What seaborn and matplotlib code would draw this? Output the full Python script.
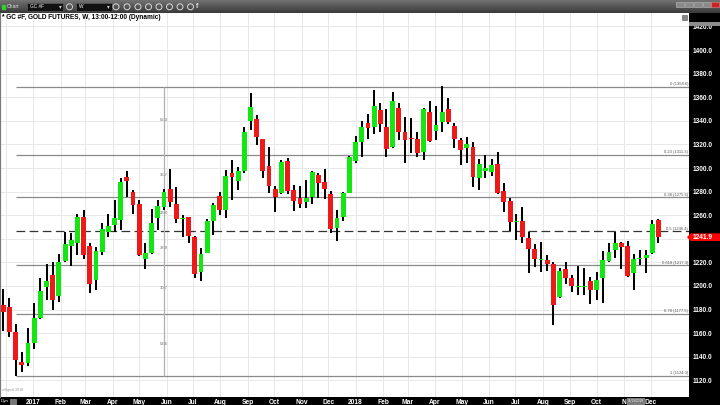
import numpy as np
import pandas as pd
import matplotlib
matplotlib.use("Agg")
import matplotlib.pyplot as plt
import matplotlib.dates as mdates
from matplotlib.patches import Rectangle, Polygon, Circle
from matplotlib.colors import LinearSegmentedColormap
import seaborn as sns

# ---------------- data (weekly OHLC, GC #F) ----------------
start_week = "2016-11-28"
opens = [1183.9, 1182.5, 1161.3, 1135.8, 1135.0, 1151.4, 1172.6, 1199.4, 1209.3, 1191.5,
         1221.1, 1234.2, 1236.1, 1258.7, 1233.9, 1205.0, 1229.0, 1245.5, 1251.7, 1255.9,
         1292.6, 1279.9, 1269.5, 1222.8, 1227.6, 1257.3, 1267.2, 1282.2, 1269.5, 1256.4,
         1258.2, 1241.8, 1212.1, 1228.2, 1255.3, 1276.2, 1264.4, 1296.0, 1289.2, 1297.7,
         1339.8, 1341.2, 1324.3, 1301.7, 1281.9, 1278.5, 1306.2, 1281.3, 1274.3, 1270.9,
         1275.7, 1294.0, 1287.8, 1277.7, 1248.8, 1258.2, 1279.1, 1305.9, 1322.3, 1337.8,
         1334.4, 1349.1, 1335.0, 1317.5, 1350.5, 1330.8, 1325.1, 1324.3, 1313.2, 1347.1,
         1331.3, 1338.7, 1349.7, 1335.8, 1323.7, 1316.6, 1318.0, 1291.2, 1297.7, 1296.9,
         1303.4, 1280.8, 1272.0, 1253.9, 1255.3, 1240.9, 1231.3, 1222.0, 1222.0, 1218.3,
         1190.4, 1214.1, 1206.5, 1199.4, 1199.1, 1204.2, 1196.6, 1207.0, 1221.4, 1230.5,
         1236.1, 1234.2, 1210.7, 1222.6, 1224.0, 1227.6, 1255.9]
highs = [1197.1, 1189.5, 1167.5, 1143.7, 1164.0, 1185.8, 1206.5, 1218.6, 1220.0, 1227.1,
         1246.0, 1244.6, 1261.0, 1264.4, 1236.7, 1233.3, 1253.1, 1261.0, 1272.9, 1291.2,
         1297.4, 1281.0, 1272.9, 1236.7, 1265.0, 1272.9, 1282.2, 1298.8, 1284.2, 1260.1,
         1258.7, 1242.5, 1232.5, 1256.5, 1270.0, 1279.9, 1298.3, 1306.8, 1301.1, 1335.0,
         1363.3, 1344.9, 1325.0, 1317.5, 1284.7, 1306.8, 1308.2, 1285.6, 1285.0, 1289.8,
         1297.4, 1295.5, 1299.1, 1280.5, 1264.4, 1279.9, 1310.1, 1327.1, 1340.1, 1345.5,
         1366.1, 1354.8, 1349.7, 1364.7, 1354.8, 1343.5, 1342.1, 1330.8, 1350.5, 1357.0,
         1352.5, 1369.5, 1359.0, 1337.8, 1325.1, 1326.0, 1322.3, 1307.3, 1311.0, 1307.6,
         1313.3, 1287.0, 1274.3, 1260.7, 1267.2, 1245.5, 1235.3, 1237.5, 1226.2, 1220.6,
         1215.0, 1220.0, 1209.3, 1217.2, 1215.0, 1207.3, 1211.5, 1229.6, 1236.7, 1246.0,
         1237.5, 1238.4, 1226.8, 1230.5, 1230.5, 1255.9, 1256.8]
lows = [1162.1, 1157.0, 1123.7, 1126.8, 1132.4, 1146.3, 1171.7, 1188.1, 1179.6, 1186.7,
        1220.6, 1217.2, 1226.2, 1222.8, 1194.3, 1196.6, 1226.2, 1241.2, 1245.5, 1247.4,
        1275.7, 1260.7, 1225.4, 1214.1, 1226.8, 1247.4, 1264.4, 1267.2, 1253.1, 1241.8,
        1236.7, 1206.5, 1204.2, 1228.2, 1243.2, 1260.1, 1257.3, 1272.8, 1281.3, 1295.5,
        1332.2, 1319.5, 1291.2, 1278.5, 1263.0, 1277.7, 1277.7, 1263.8, 1265.8, 1266.4,
        1269.5, 1274.3, 1273.4, 1244.6, 1238.1, 1255.3, 1278.5, 1304.5, 1309.0, 1324.5,
        1328.8, 1330.8, 1309.6, 1316.6, 1323.7, 1303.9, 1313.0, 1309.6, 1306.8, 1322.3,
        1323.7, 1330.8, 1337.0, 1316.6, 1302.5, 1304.5, 1284.2, 1281.3, 1291.2, 1293.5,
        1278.0, 1262.4, 1246.6, 1239.0, 1236.1, 1210.7, 1216.3, 1212.1, 1213.0, 1166.9,
        1189.5, 1201.7, 1195.2, 1192.3, 1192.3, 1184.4, 1188.1, 1185.8, 1220.6, 1223.4,
        1214.1, 1207.9, 1196.6, 1217.8, 1210.7, 1227.1, 1236.4]
closes = [1177.6, 1161.3, 1137.3, 1133.0, 1151.4, 1173.1, 1195.7, 1204.5, 1188.1, 1220.6,
          1235.6, 1239.0, 1258.2, 1226.2, 1201.4, 1229.9, 1248.0, 1251.1, 1257.3, 1288.4,
          1289.2, 1268.6, 1226.2, 1227.6, 1253.1, 1268.0, 1279.9, 1271.4, 1256.7, 1256.9,
          1242.6, 1209.9, 1226.8, 1255.3, 1268.6, 1264.4, 1293.5, 1292.1, 1297.4, 1330.8,
          1351.4, 1326.0, 1297.4, 1284.7, 1275.1, 1304.8, 1280.5, 1272.3, 1269.5, 1274.3,
          1296.3, 1287.5, 1282.2, 1248.3, 1257.3, 1279.1, 1309.6, 1322.3, 1335.0, 1333.6,
          1352.5, 1337.3, 1315.8, 1356.8, 1330.8, 1323.7, 1324.3, 1312.4, 1350.0, 1322.9,
          1336.4, 1347.7, 1338.7, 1324.3, 1315.2, 1320.3, 1292.1, 1303.4, 1299.7, 1302.5,
          1278.5, 1270.9, 1254.5, 1255.3, 1241.2, 1231.0, 1222.8, 1222.8, 1218.6, 1183.9,
          1213.0, 1206.5, 1200.3, 1200.3, 1200.3, 1196.6, 1205.0, 1222.0, 1228.5, 1236.1,
          1233.3, 1208.4, 1222.6, 1222.8, 1226.2, 1252.2, 1241.9]

title = "* GC #F, GOLD FUTURES, W, 13:00-12:00 (Dynamic)"
# "Nov" 2018 is mostly hidden behind the cursor date tag; only "N" shows
month_labels = ["", "2017", "Feb", "Mar", "Apr", "May", "Jun", "Jul", "Aug", "Sep", "Oct",
                "Nov", "Dec", "2018", "Feb", "Mar", "Apr", "May", "Jun", "Jul", "Aug",
                "Sep", "Oct", "N", "Dec"]
y_ticks = [1120, 1140, 1160, 1180, 1200, 1220, 1240, 1260, 1280, 1300, 1320, 1340,
           1360, 1380, 1400, 1420]
fib_high = 1368.6
fib_low = 1124.0
fib_ratios = [0, 0.236, 0.382, 0.5, 0.618, 0.786, 1]
fib_labels = ["0 (1368.6)", "0.23 (1311.3)", "0.38 (1275.6)", "0.5 (1246.4)",
              "0.618 (1217.3)", "0.78 (1177.5)", "1 (1124.0)"]
cycle_values = [1340.7, 1294.1, 1261.9, 1232.2, 1198.3, 1150.8]
cycle_labels = ["56.3", "36.7", "23.6", "38.9", "30.7", "53.6"]
last_price = 1241.9
date_tag = "11/13/2018"

# ---------------- style ----------------
sns.set_theme(style="white")
plt.rcParams["font.family"] = ["Liberation Sans", "DejaVu Sans"]

GREEN = "#14e614"
RED = "#ee1a1a"

W, H = 720, 405
fig = plt.figure(figsize=(7.2, 4.05), dpi=100, facecolor="black")
ax = fig.add_axes([0, 8 / H, 689 / W, 384 / H])
ax.set_facecolor("white")

dates = pd.date_range(start_week, periods=len(opens), freq="7D")
x = mdates.date2num(dates)
df = pd.DataFrame({"x": x, "open": opens, "high": highs, "low": lows, "close": closes})
df["up"] = df["close"] >= df["open"]
df["bottom"] = df[["open", "close"]].min(axis=1)
df["height"] = (df["close"] - df["open"]).abs().clip(lower=0.9)

# wicks and bodies
ax.vlines(df["x"], df["low"], df["high"], color="black", lw=1.45, zorder=3)
ax.bar(df["x"], df["height"], bottom=df["bottom"], width=5.5,
       color=np.where(df["up"], GREEN, RED), edgecolor="none", zorder=4)

# limits
ax.set_ylim(1105.9, 1431.4)
ax.set_xlim(x[0] - 3.7, x[0] + 776.6)

# grid / month ticks
months = pd.date_range("2016-12-01", "2018-12-01", freq="MS")
ax.set_xticks(mdates.date2num(months))
ax.set_xticklabels(month_labels)
ax.set_yticks(y_ticks)
# the 1240.0 label sits under the last-price tag
ax.set_yticklabels(["" if abs(v - last_price) < 5 else f"{v:.1f}" for v in y_ticks])
ax.yaxis.tick_right()
ax.grid(True, color="#e8e8e8", lw=0.7)
ax.set_axisbelow(True)
ax.tick_params(axis="x", length=0, pad=1.6, labelcolor="white", labelsize=4.8)
ax.tick_params(axis="y", length=0, pad=2.7, labelcolor="white", labelsize=4.7)
for lbl in ax.get_xticklabels() + ax.get_yticklabels():
    lbl.set_fontweight("bold")
for s in ["top", "right", "bottom"]:
    ax.spines[s].set_visible(False)
ax.spines["left"].set_color("#7a7a7a")
ax.spines["left"].set_linewidth(1.6)

# fibonacci levels
xr = ax.get_xlim()[1]
for r, lab in zip(fib_ratios, fib_labels):
    lvl = fib_high - r * (fib_high - fib_low)
    if r == 0.5:
        ax.hlines(lvl, x[2], xr, color="#333333", lw=0.9, linestyles=(0, (7, 3.5)), zorder=2)
    else:
        ax.hlines(lvl, x[2], xr, color="#8a8a8a", lw=0.9, zorder=2)
    ax.text(xr - 1, lvl + 0.6, lab, ha="right", va="bottom", fontsize=3.0,
            color="#555555", zorder=5)

# vertical cycle line
ax.vlines(x[26], fib_low, fib_high, color="#b0b0b0", lw=0.9, zorder=2)
for v, lab in zip(cycle_values, cycle_labels):
    ax.text(x[26], v, lab, ha="center", va="center", fontsize=3.0, color="#666666", zorder=2.5)

# ---------------- overlay (pixel coords) ----------------
ov = fig.add_axes([0, 0, 1, 1], facecolor="none", zorder=10)
grad = np.linspace(0, 1, 30).reshape(-1, 1)
ov.imshow(grad, cmap=LinearSegmentedColormap.from_list("tb", ["#727272", "#3a3a3a"]),
          extent=(0, W, 13, 0), aspect="auto", zorder=0)
ov.set_xlim(0, W)
ov.set_ylim(H, 0)
ov.axis("off")

# toolbar items
ov.add_patch(Rectangle((2, 4.5), 2.5, 4.5, color="#33cc33"))
ov.text(7, 7, "Chart", fontsize=3.6, color="#e0e0e0", va="center", ha="left")
ov.add_patch(Rectangle((27, 2.5), 36, 8.5, facecolor="#111111", edgecolor="#666666", lw=0.4))
ov.text(30, 7, "GC #F", fontsize=3.4, color="white", va="center", ha="left")
ov.text(60, 7, "\u25BE", fontsize=4, color="#cccccc", va="center", ha="center",
        family="DejaVu Sans")
ov.add_patch(Circle((69.5, 6.8), 3.0, facecolor="none", edgecolor="#d0d0d0", lw=0.7))
ov.add_patch(Rectangle((76, 2.5), 36, 8.5, facecolor="#111111", edgecolor="#666666", lw=0.4))
ov.text(79, 7, "W", fontsize=3.4, color="white", va="center", ha="left")
ov.text(108, 7, "\u25BE", fontsize=4, color="#cccccc", va="center", ha="center",
        family="DejaVu Sans")
for cx in [116, 127, 138, 148.5, 159, 169.5, 180, 190.5]:
    ov.add_patch(Circle((cx, 6.8), 3.0, facecolor="none", edgecolor="#d8d8d8", lw=0.7))
ov.text(197, 7, "f", fontsize=5, color="#e0e0e0", va="center", ha="center", fontweight="bold")
for bx in [676, 685, 694, 703]:
    ov.add_patch(Rectangle((bx, 1.5), 7.5, 5.5, facecolor="#8a8a8a", edgecolor="#bbbbbb", lw=0.4))
ov.add_patch(Rectangle((711, 1.5), 7.5, 5.5, facecolor="#cc2222", edgecolor="#dd8888", lw=0.4))

# title
ov.text(1.5, 17.8, title, fontsize=4.7, fontweight="bold", color="black", va="center", ha="left")
# small icon top right of chart
ov.add_patch(Rectangle((682, 15), 5, 5, facecolor="#888888", edgecolor="#555555", lw=0.4))
# gray top tag in price scale
ov.add_patch(Rectangle((689, 21.5), 31, 4.5, facecolor="#8c8c8c", edgecolor="none", zorder=0.5))

# last price tag
ov.add_patch(Polygon([(687, 237.2), (690.5, 233.4), (720, 233.4), (720, 241.0), (690.5, 241.0)],
                     closed=True, facecolor="#ff0000", edgecolor="none"))
ov.text(693, 237.4, f"{last_price:.1f}", fontsize=4.8, fontweight="bold", color="white",
        va="center", ha="left")

# bottom strip items
ov.text(1, 401.2, "Dyn", fontsize=3.2, color="white", va="center", ha="left")
ov.add_patch(Rectangle((10, 398.5), 6, 5, facecolor="#777777", edgecolor="#aaaaaa", lw=0.4))
ov.add_patch(Rectangle((626.5, 397.5), 18.5, 7.5, facecolor="#7a7a7a", edgecolor="none"))
ov.text(635.7, 401.2, date_tag, fontsize=2.3, color="#eeeeee", va="center", ha="center")
ov.text(2, 390.5, "eSignal 2018", fontsize=2.6, color="#999999", va="center", ha="left")

fig.savefig("out.png", dpi=100, facecolor="black")
